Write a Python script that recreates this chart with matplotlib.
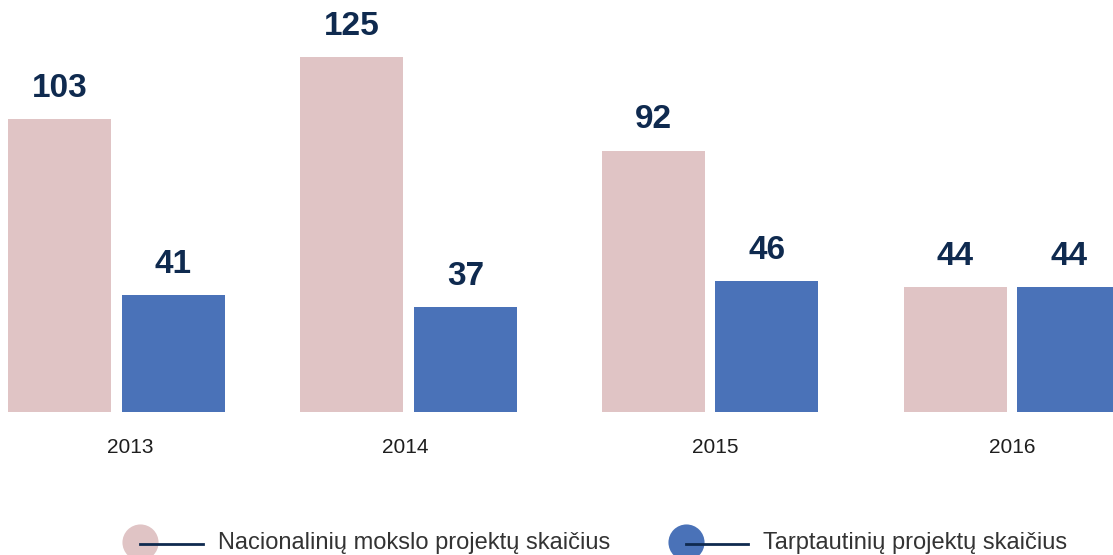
import numpy as np
import matplotlib.pyplot as plt
from matplotlib.lines import Line2D

plt.rcParams['font.family'] = ['Liberation Sans', 'DejaVu Sans']

years = ['2013', '2014', '2015', '2016']
nacionaliniai = [103, 125, 92, 44]
tarptautiniai = [41, 37, 46, 44]
legend_labels = ['Nacionalinių mokslo projektų skaičius', 'Tarptautinių projektų skaičius']

pink = '#e0c4c5'
blue = '#4a72b8'
navy = '#0f2a4f'

fig = plt.figure(figsize=(11.13, 5.55), dpi=100)
ax = fig.add_axes([0, 0.2577, 1, 0.7423])

# group centres are not quite evenly spaced in the original
x = np.arange(len(years)) + np.array([0.015, -0.008, 0.0, 0.01])
w = 0.345
off = 0.19
b1 = ax.bar(x - off, nacionaliniai, w, color=pink)
b2 = ax.bar(x + off, tarptautiniai, w, color=blue)

# value labels above bars
for bars in (b1, b2):
    ax.bar_label(bars, padding=11, fontsize=24, fontweight='bold', color=navy)

ax.set_xlim(-0.375, 3.348)
ax.set_ylim(0, 145)
ax.set_xticks(np.arange(len(years)) + np.array([0.06, -0.02, 0.017, 0.01]))
ax.set_xticklabels(years, fontsize=15, color='#1e1e1e', fontweight='medium')
ax.tick_params(axis='x', length=0, pad=19)
ax.set_yticks([])
for s in ax.spines.values():
    s.set_visible(False)

# hand-made legend at the bottom
leg_pos = [(140, 203, 218), (686, 748, 763)]
for (cx, lx, tx), col, lab in zip(leg_pos, [pink, blue], legend_labels):
    y = 1 - 542 / 555
    fig.add_artist(Line2D([cx / 1113], [y], marker='o', markersize=26, color=col,
                          markeredgewidth=0, transform=fig.transFigure))
    fig.add_artist(Line2D([cx / 1113, lx / 1113], [1 - 544 / 555] * 2, color=navy,
                          linewidth=2, transform=fig.transFigure))
    fig.text(tx / 1113, 1 - 543 / 555, lab, fontsize=17, color='#333333',
             va='center', ha='left')

fig.savefig('out.png', dpi=100)
